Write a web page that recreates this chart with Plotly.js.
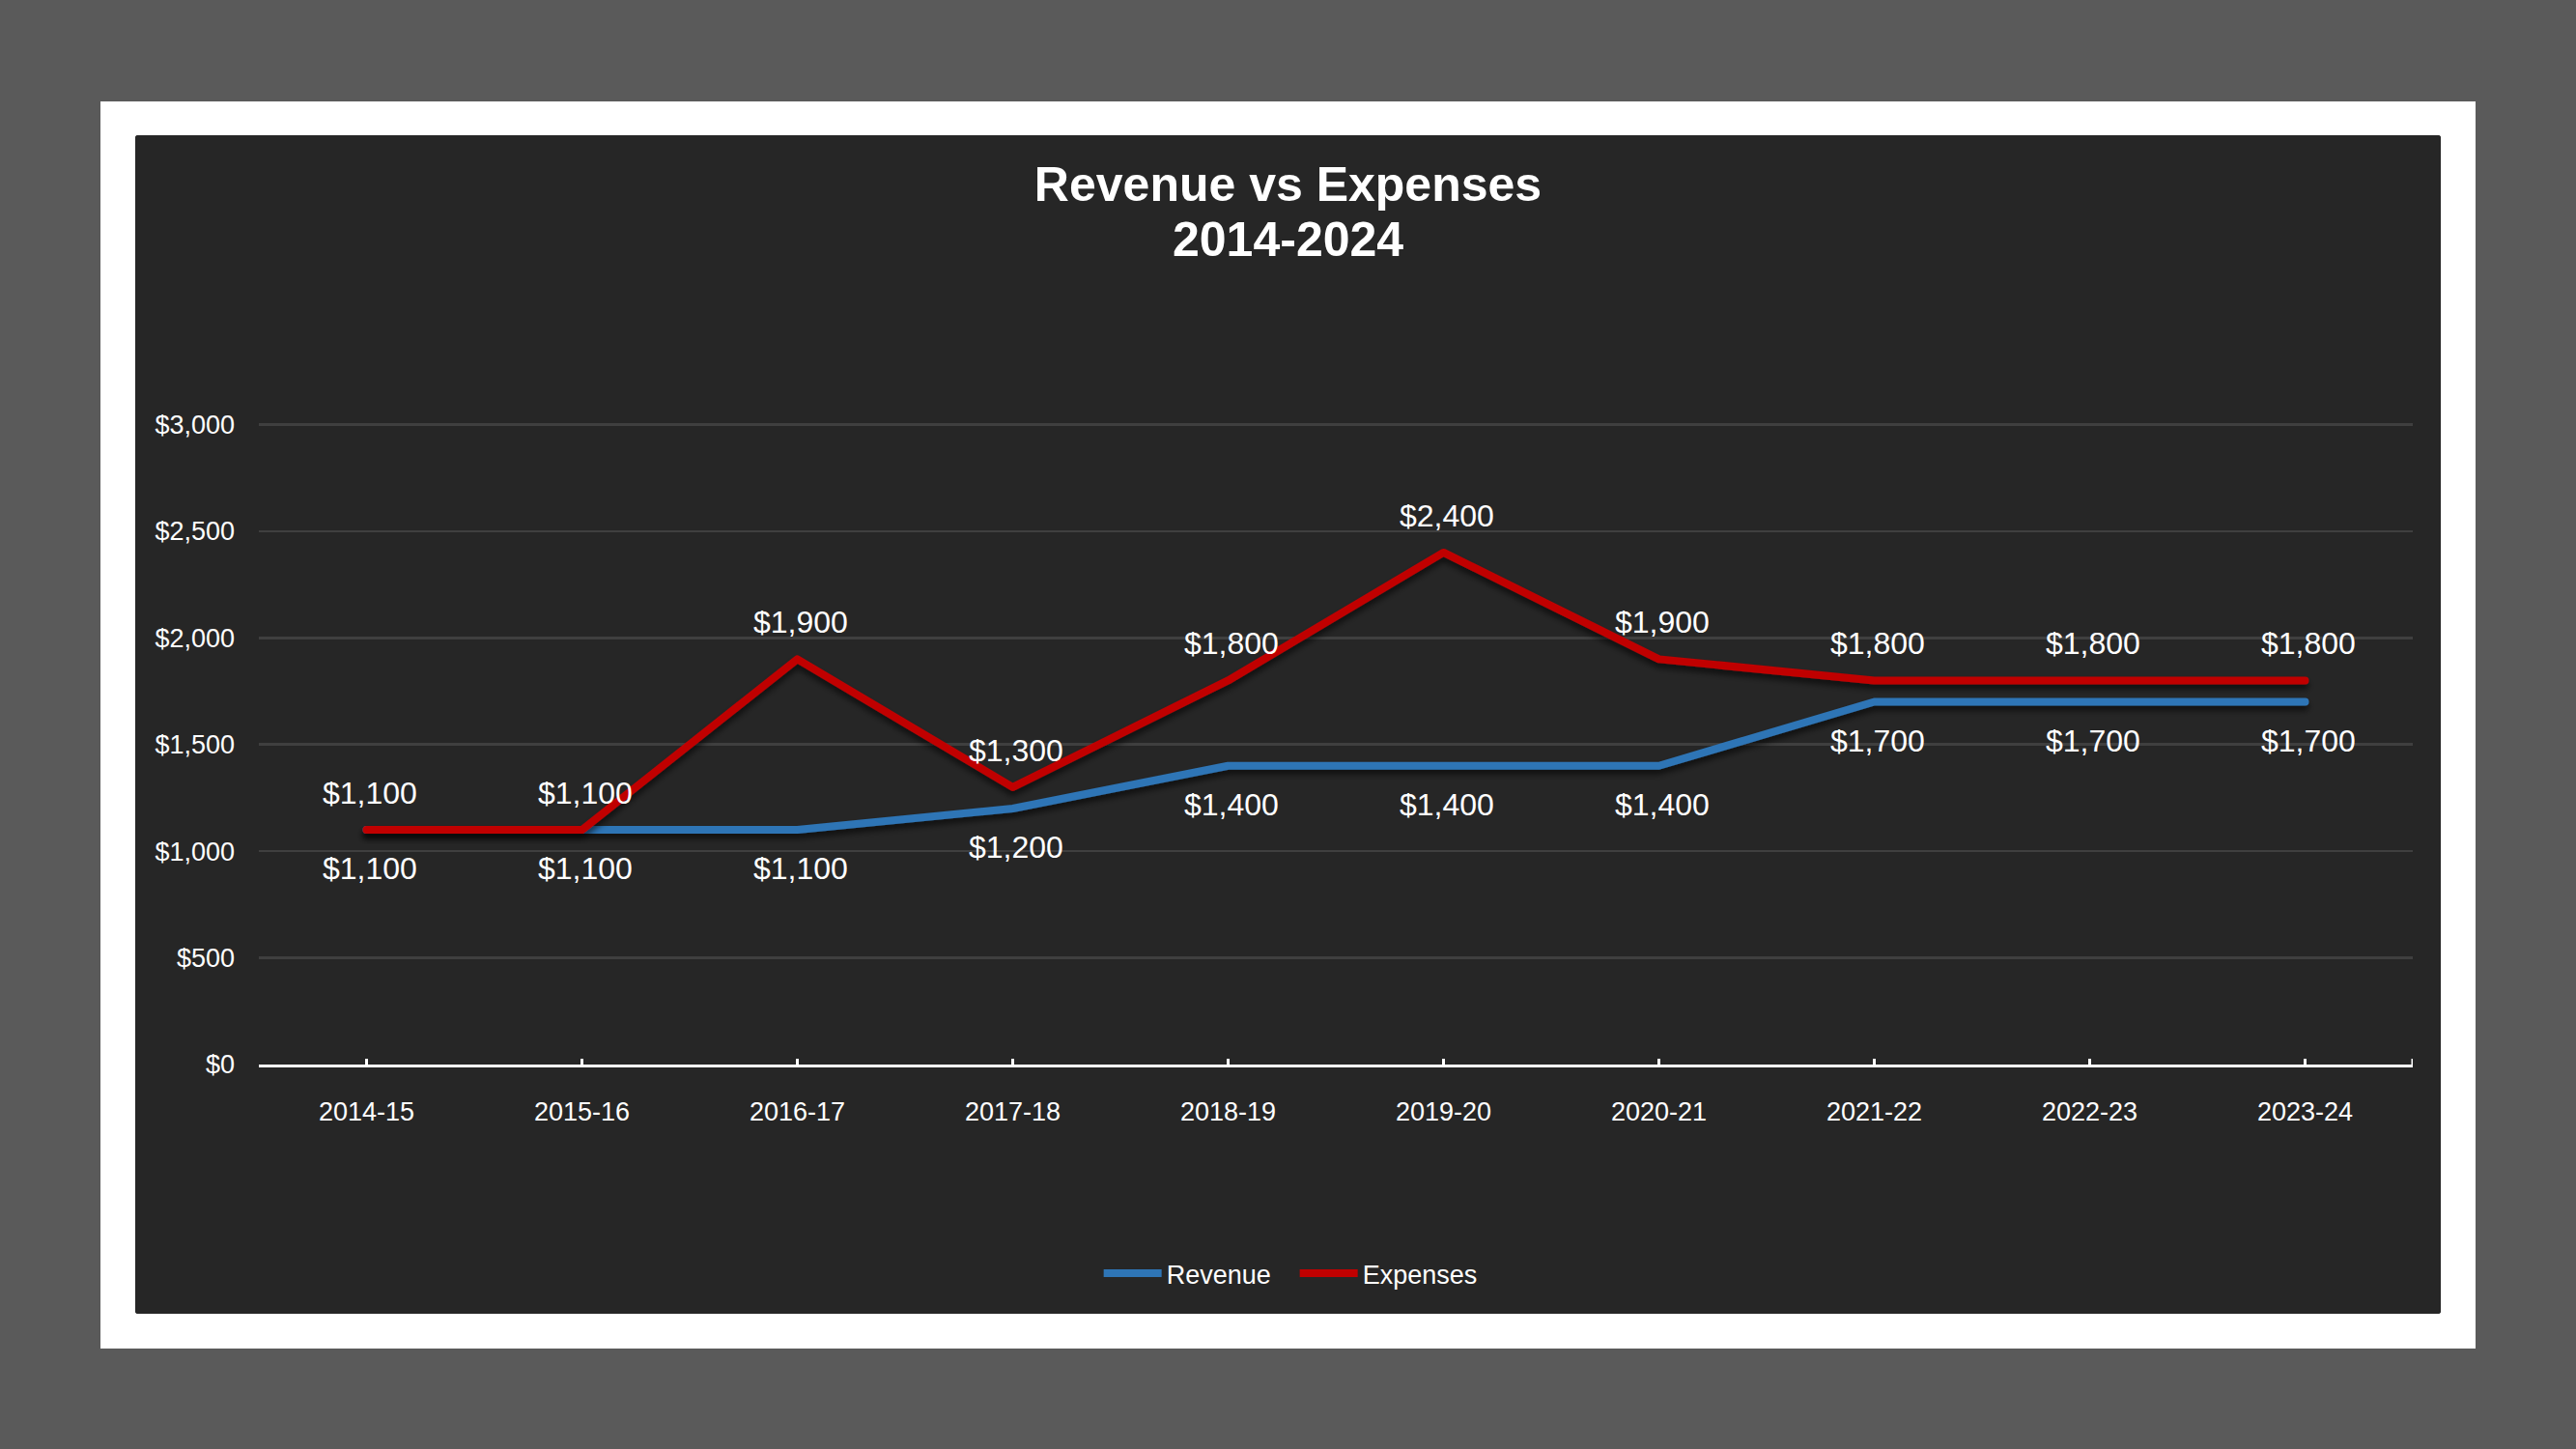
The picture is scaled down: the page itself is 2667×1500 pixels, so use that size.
<!DOCTYPE html>
<html>
<head>
<meta charset="utf-8">
<script src="https://cdn.plot.ly/plotly-3.0.1.min.js"></script>
<style>
  html, body { margin: 0; padding: 0; background: #5a5a5a; width: 2667px; height: 1500px; overflow: hidden; }
  #frame { position: absolute; left: 104px; top: 105px; width: 2459px; height: 1291px; background: #ffffff; }
  #chart { position: absolute; left: 140px; top: 140px; width: 2387px; height: 1220px; background: #262626; border-radius: 3px; overflow: hidden; }
</style>
</head>
<body>
<div id="frame"></div>
<div id="chart"></div>
<script>
// ---- data ----
const categories = ['2014-15','2015-16','2016-17','2017-18','2018-19','2019-20','2020-21','2021-22','2022-23','2023-24'];
const revenue  = [1100, 1100, 1100, 1200, 1400, 1400, 1400, 1700, 1700, 1700];
const expenses = [1100, 1100, 1900, 1300, 1800, 2400, 1900, 1800, 1800, 1800];
const yTickVals = [0, 500, 1000, 1500, 2000, 2500, 3000];
const yTickText = ['$0', '$500', '$1,000', '$1,500', '$2,000', '$2,500', '$3,000'];
const titleLine1 = 'Revenue vs Expenses';
const titleLine2 = '2014-2024';

const FONT = 'Liberation Sans, Arial, sans-serif';
const fmt = v => '$' + v.toLocaleString('en-US');

const traces = [
  { type: 'scatter', mode: 'lines', name: 'Revenue', x: categories, y: revenue,
    line: { color: '#2E75B6', width: 8 }, hoverinfo: 'skip' },
  { type: 'scatter', mode: 'lines', name: 'Expenses', x: categories, y: expenses,
    line: { color: '#C00000', width: 8 }, hoverinfo: 'skip' }
];

const annotations = [];
categories.forEach((c, i) => {
  annotations.push({ x: c, y: expenses[i], xref: 'x', yref: 'y', text: fmt(expenses[i]),
    showarrow: false, yanchor: 'middle', xanchor: 'center', yshift: 38, xshift: 3,
    font: { family: FONT, size: 32, color: '#ffffff' } });
  annotations.push({ x: c, y: revenue[i], xref: 'x', yref: 'y', text: fmt(revenue[i]),
    showarrow: false, yanchor: 'middle', xanchor: 'center', yshift: -40, xshift: 3,
    font: { family: FONT, size: 32, color: '#ffffff' } });
});
// second line of the chart title
annotations.push({ x: 0.4778, y: 1.2799, xref: 'paper', yref: 'paper', text: '<b>' + titleLine2 + '</b>',
  showarrow: false, xanchor: 'center', yanchor: 'middle',
  font: { family: FONT, size: 50, color: '#ffffff' } });

// crossing tick marks on the category axis (at each category and at the right end)
const tickPositions = categories.map((c, i) => i).concat([categories.length - 0.5]);
const shapes = tickPositions.map(p => ({
  type: 'line', xref: 'x', yref: 'y', ysizemode: 'pixel', yanchor: 0,
  x0: p, x1: p, y0: -7, y1: 6, line: { color: '#ffffff', width: 3 }, layer: 'above'
}));

const layout = {
  width: 2387, height: 1220,
  margin: { l: 128, r: 29, t: 295, b: 258 },
  paper_bgcolor: '#262626', plot_bgcolor: '#262626',
  font: { family: FONT, color: '#ffffff' },
  title: {
    text: '<b>' + titleLine1 + '</b>',
    font: { family: FONT, size: 50, color: '#ffffff' },
    x: 0.5, xref: 'container', xanchor: 'center',
    y: 0.9586, yref: 'container', yanchor: 'middle'
  },
  xaxis: {
    type: 'category', range: [-0.5, categories.length - 0.5],
    showgrid: false, zeroline: false,
    showline: true, linecolor: '#ffffff', linewidth: 3,
    ticks: '', tickfont: { family: FONT, size: 27, color: '#ffffff' },
    ticklabelstandoff: 23, fixedrange: true
  },
  yaxis: {
    range: [0, 3020], tickmode: 'array', tickvals: yTickVals, ticktext: yTickText,
    showgrid: true, gridcolor: '#3f3f3f', gridwidth: 2.5,
    zeroline: false, showline: false, ticks: '',
    tickfont: { family: FONT, size: 27, color: '#ffffff' },
    ticklabelstandoff: 24, fixedrange: true
  },
  showlegend: true,
  legend: {
    orientation: 'h', xref: 'container', yref: 'container',
    x: 0.503, xanchor: 'center', y: 0.034, yanchor: 'middle',
    font: { family: FONT, size: 27, color: '#ffffff' },
    bgcolor: 'rgba(0,0,0,0)', itemwidth: 60, entrywidth: 128
  },
  annotations: annotations,
  shapes: shapes
};

Plotly.newPlot('chart', traces, layout, { displayModeBar: false, staticPlot: true }).then(gd => {
  // subtle drop shadow under lines, like the original
  const svg = gd.querySelector('.main-svg');
  const NS = 'http://www.w3.org/2000/svg';
  let defs = svg.querySelector('defs');
  if (!defs) { defs = document.createElementNS(NS, 'defs'); svg.insertBefore(defs, svg.firstChild); }
  const f = document.createElementNS(NS, 'filter');
  f.setAttribute('id', 'lineShadow');
  f.setAttribute('x', '-5%'); f.setAttribute('y', '-50%');
  f.setAttribute('width', '110%'); f.setAttribute('height', '200%');
  const ds = document.createElementNS(NS, 'feDropShadow');
  ds.setAttribute('dx', '0'); ds.setAttribute('dy', '5'); ds.setAttribute('stdDeviation', '3');
  ds.setAttribute('flood-color', '#000000'); ds.setAttribute('flood-opacity', '0.6');
  f.appendChild(ds);
  defs.appendChild(f);
  gd.querySelectorAll('.scatterlayer .js-line').forEach(p => {
    p.setAttribute('filter', 'url(#lineShadow)');
    p.style.strokeLinecap = 'round';
    p.style.strokeLinejoin = 'round';
  });
});
</script>
</body>
</html>
